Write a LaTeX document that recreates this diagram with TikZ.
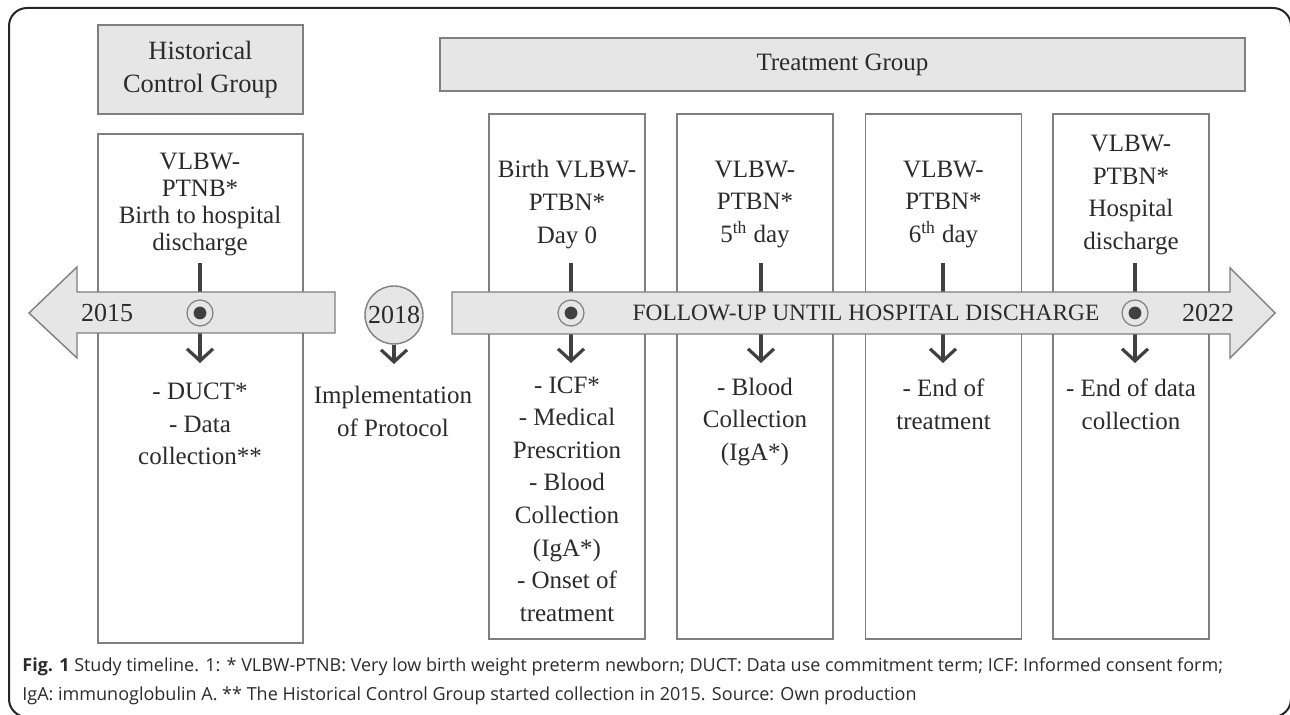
\documentclass[tikz,border=0pt]{standalone}
\usepackage{fontspec}
\setmainfont{Liberation Serif}
\newfontfamily\capfont{Open Sans}
\usetikzlibrary{arrows.meta}

\definecolor{boxgray}{HTML}{7F7F7F}
\definecolor{fillgray}{HTML}{E6E6E6}
\definecolor{inkgray}{HTML}{404040}
\definecolor{txtgray}{HTML}{2B2B2B}

\begin{document}
\begin{tikzpicture}[
  x=0.5pt, y=-0.5pt,
  grpbox/.style={draw=boxgray,fill=fillgray,line width=0.7pt,inner sep=0pt},
  stagebox/.style={draw=boxgray,fill=white,line width=0.7pt,inner sep=0pt,minimum width=78pt,minimum height=262.5pt},
  lbl/.style={align=center,text=txtgray,font=\fontsize{12.5}{16.3}\selectfont,inner sep=0pt},
  tgt/.style={circle,draw=boxgray,fill=fillgray,line width=0.6pt,minimum size=13pt,inner sep=0pt,
    path picture={\fill[inkgray] (path picture bounding box.center) circle (3.2pt);}},
  flow/.style={draw=inkgray,line width=1.6pt,-{Straight Barb[length=6pt,width=13pt]}}
]
  \useasboundingbox (0,0) rectangle (1290,715);
  \clip (0,0) rectangle (1290,715);

  % frame
  \draw[line width=1pt,draw=black!85,rounded corners=9pt] (9,8) rectangle (1291,717);

  % group headers
  \node[grpbox,lbl,font=\fontsize{13.2}{16.3}\selectfont,minimum width=102.5pt,minimum height=44.5pt] (histgrp) at (200.5,69.5) {Historical\\Control Group};
  \node[grpbox,lbl,minimum width=402.5pt,minimum height=26.5pt] (trtgrp) at (842.5,64.5) {Treatment Group};

  % stage boxes
  \node[stagebox,minimum width=102.5pt,minimum height=254.5pt] (hist) at (200.5,388.5) {};
  \node[stagebox] (st1) at (567,376.5) {};
  \node[stagebox] (st2) at (755,376.5) {};
  \node[stagebox] (st3) at (943.5,376.5) {};
  \node[stagebox] (st4) at (1131,376.5) {};

  % stems
  \coordinate (hista) at (200,263);
  \coordinate (histb) at (200,363);
  \coordinate (st1a) at (571,263);
  \coordinate (st1b) at (571,363);
  \coordinate (st2a) at (761,263);
  \coordinate (st2b) at (761,363);
  \coordinate (st3a) at (943,263);
  \coordinate (st3b) at (943,363);
  \coordinate (st4a) at (1135,263);
  \coordinate (st4b) at (1135,363);
  \draw[flow] (hista) -- (histb);
  \draw[flow] (st1a) -- (st1b);
  \draw[flow] (st2a) -- (st2b);
  \draw[flow] (st3a) -- (st3b);
  \draw[flow] (st4a) -- (st4b);

  % timeline
  \draw[grpbox] (29,313) -- (77,267) -- (77,292) -- (335,292) -- (335,333) -- (77,333) -- (77,358) -- cycle;
  \draw[grpbox] (452,292) -- (1230,292) -- (1230,268) -- (1275,313) -- (1230,358) -- (1230,334) -- (452,334) -- cycle;

  % markers
  \node[tgt] (histm) at (200,313) {};
  \node[tgt] (st1m) at (571,313) {};
  \node[tgt] (st4m) at (1135,313) {};

  % years
  \node[lbl,font=\fontsize{13}{16}\selectfont] (y15) at (107,313) {2015};
  \node[lbl,font=\fontsize{13}{16}\selectfont] (y22) at (1208,313) {2022};
  \node[lbl,font=\fontsize{11.7}{16}\selectfont] (fu) at (866,313) {FOLLOW-UP UNTIL HOSPITAL DISCHARGE};
  \node[grpbox,lbl,font=\fontsize{13}{16}\selectfont,circle,minimum size=29pt] (y18) at (394,315) {2018};
  \coordinate (y18b) at (394,364);
  \draw[flow] (y18) -- (y18b);
  \node[lbl] (impl) at (393,411.5) {Implementation\\of Protocol};

  % box texts
  \node[lbl,font=\fontsize{12.5}{13.5}\selectfont] (histtop) at (200,205) {VLBW-\\PTNB*\\Birth to hospital\\discharge};
  \node[lbl] (histbot) at (200,424) {- DUCT*\\- Data\\collection**};
  \node[lbl] (st1top) at (567,204.5) {Birth VLBW-\\PTBN*\\Day 0};
  \node[lbl] (st1bot) at (567,499) {- ICF*\\- Medical\\Prescrition\\- Blood\\Collection\\(IgA*)\\- Onset of\\treatment};
  \node[lbl] (st2top) at (755,204.5) {VLBW-\\PTBN*\\5\textsuperscript{th} day};
  \node[lbl] (st2bot) at (755,422) {- Blood\\Collection\\(IgA*)};
  \node[lbl] (st3top) at (943.5,204.5) {VLBW-\\PTBN*\\6\textsuperscript{th} day};
  \node[lbl] (st3bot) at (943.5,404.5) {- End of\\treatment};
  \node[lbl] (st4top) at (1131,195) {VLBW-\\PTBN*\\Hospital\\discharge};
  \node[lbl] (st4bot) at (1131,404.5) {- End of data\\collection};

  % caption
  \node[anchor=west,align=left,text=txtgray,inner sep=0pt,font=\capfont\fontsize{9}{14.5}\selectfont] (cap) at (22,681.5)
    {\textbf{Fig. 1} Study timeline. 1: * VLBW-PTNB: Very low birth weight preterm newborn; DUCT: Data use commitment term; ICF: Informed consent form;\\
     IgA: immunoglobulin A. ** The Historical Control Group started collection in 2015. Source: Own production};
\end{tikzpicture}
\end{document}
